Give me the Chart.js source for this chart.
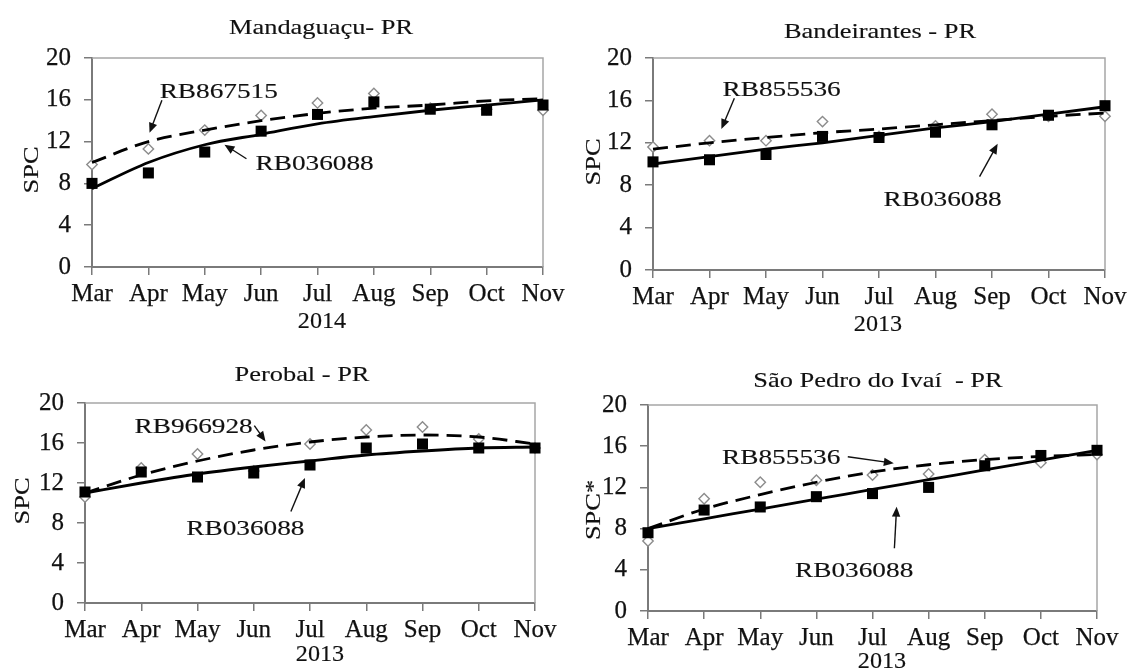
<!DOCTYPE html>
<html><head><meta charset="utf-8">
<script src="https://cdn.jsdelivr.net/npm/chart.js@4.4.1/dist/chart.umd.min.js"></script>
<style>
html,body{margin:0;padding:0;background:#fff;width:1129px;height:672px;overflow:hidden;position:relative}
canvas{position:absolute}
</style></head><body>
<canvas id="c1" width="600" height="336" style="left:0px;top:0px"></canvas>
<canvas id="c2" width="600" height="336" style="left:565px;top:0px"></canvas>
<canvas id="c3" width="600" height="336" style="left:0px;top:336px"></canvas>
<canvas id="c4" width="600" height="336" style="left:565px;top:336px"></canvas>
<script>
// ---- data ----
const months = ['Mar','Apr','May','Jun','Jul','Aug','Sep','Oct','Nov'];
const yTicks = [0, 4, 8, 12, 16, 20];

// Mandaguaçu - PR (2014)
const p1Title = 'Mandaguaçu- PR';
const p1Year = '2014';
const p1YLabel = 'SPC';
const p1Other = 'RB867515';
const p1RB036088 = [8.0, 9.0, 11.0, 13.0, 14.6, 15.8, 15.1, 15.0, 15.5];
const p1OtherVals = [9.8, 11.3, 13.1, 14.5, 15.7, 16.6, 15.2, 15.1, 15.0];
const p1FitRB036088 = [7.5, 10.0, 11.7, 12.7, 13.7, 14.4, 15.0, 15.5, 16.0];
const p1FitOther = [10.0, 12.0, 13.1, 14.0, 14.7, 15.2, 15.5, 15.9, 16.1];

// Bandeirantes - PR (2013)
const p2Title = 'Bandeirantes - PR';
const p2Year = '2013';
const p2YLabel = 'SPC';
const p2Other = 'RB855536';
const p2RB036088 = [10.2, 10.4, 10.9, 12.6, 12.5, 13.0, 13.7, 14.6, 15.5];
const p2OtherVals = [11.6, 12.2, 12.2, 14.0, 12.6, 13.6, 14.7, 14.5, 14.5];
const p2FitRB036088 = [10.0, 10.7, 11.4, 12.0, 12.7, 13.4, 14.0, 14.7, 15.4];
const p2FitOther = [11.4, 12.0, 12.5, 12.95, 13.3, 13.7, 14.1, 14.5, 14.8];

// Perobal - PR (2013)
const p3Title = 'Perobal - PR';
const p3Year = '2013';
const p3YLabel = 'SPC';
const p3Other = 'RB966928';
const p3RB036088 = [11.1, 13.1, 12.6, 13.0, 13.8, 15.5, 15.9, 15.5, 15.5];
const p3OtherVals = [10.6, 13.5, 14.9, 13.2, 15.9, 17.3, 17.6, 16.4, 15.5];
const p3FitRB036088 = [11.0, 12.0, 12.9, 13.6, 14.2, 14.8, 15.2, 15.5, 15.6];
const p3FitOther = [11.0, 12.8, 14.2, 15.3, 16.1, 16.6, 16.8, 16.6, 15.9];

// São Pedro do Ivaí - PR (2013)
const p4Title = 'São Pedro do Ivaí  - PR';
const p4Year = '2013';
const p4YLabel = 'SPC*';
const p4Other = 'RB855536';
const p4RB036088 = [7.6, 9.8, 10.1, 11.1, 11.4, 12.0, 14.1, 15.1, 15.6];
const p4OtherVals = [6.8, 10.9, 12.5, 12.7, 13.2, 13.3, 14.7, 14.4, 15.2];
const p4FitRB036088 = [8.0, 8.95, 9.9, 10.85, 11.8, 12.75, 13.7, 14.65, 15.6];
const p4FitOther = [8.0, 9.9, 11.3, 12.5, 13.5, 14.2, 14.7, 15.0, 15.2];

// ---- layout (page pixels) ----
const panels = [
  { id:'c1', cv:[0,0,600,336], area:[92,58,543,267], title:p1Title, year:p1Year, ylab:p1YLabel,
    sq:p1RB036088, dm:p1OtherVals, fs:p1FitRB036088, fd:p1FitOther,
    titlePos:[321,28], ylabPos:[32,170], yearPos:[322,322],
    notes:[ {text:p1Other, at:[1.20,16.2], from:[1.24,15.95], to:[1.02,12.85]},
            {text:'RB036088', at:[2.90,9.3], from:[2.74,10.36], to:[2.35,11.7]} ] },
  { id:'c2', cv:[565,0,600,336], area:[653,58,1105,270], title:p2Title, year:p2Year, ylab:p2YLabel,
    sq:p2RB036088, dm:p2OtherVals, fs:p2FitRB036088, fd:p2FitOther,
    titlePos:[880,32], ylabPos:[594,162], yearPos:[878,325],
    notes:[ {text:p2Other, at:[1.23,16.37], from:[1.44,16.2], to:[1.21,13.3]},
            {text:'RB036088', at:[4.08,6.05], from:[5.78,8.81], to:[6.10,11.9]} ] },
  { id:'c3', cv:[0,336,600,336], area:[85,403,535,603], title:p3Title, year:p3Year, ylab:p3YLabel,
    sq:p3RB036088, dm:p3OtherVals, fs:p3FitRB036088, fd:p3FitOther,
    titlePos:[302,375], ylabPos:[23,501], yearPos:[320,655],
    notes:[ {text:p3Other, at:[0.88,17.0], from:[3.01,17.73], to:[3.21,16.16]},
            {text:'RB036088', at:[1.80,6.83], from:[3.66,9.16], to:[3.91,12.5]} ] },
  { id:'c4', cv:[565,336,600,336], area:[648,405,1097,611], title:p4Title, year:p4Year, ylab:p4YLabel,
    sq:p4RB036088, dm:p4OtherVals, fs:p4FitRB036088, fd:p4FitOther,
    titlePos:[878,381], ylabPos:[594,510], yearPos:[882,662],
    notes:[ {text:p4Other, at:[1.32,14.27], from:[3.56,14.98], to:[4.38,14.34]},
            {text:'RB036088', at:[2.62,3.3], from:[4.39,6.09], to:[4.43,10.13]} ] }
];

const SERIF = "'Liberation Serif', 'Times New Roman', serif";
const TXT = '#111111';
const AXIS = '#7a7a7a';

function sText(ctx, text, x, y, size, sx, align, rot, base) {
  ctx.save();
  ctx.translate(x, y);
  if (rot) ctx.rotate(rot);
  ctx.scale(sx, 1);
  ctx.font = size + 'px ' + SERIF;
  ctx.fillStyle = TXT;
  ctx.strokeStyle = TXT;
  ctx.lineWidth = 0.15;
  ctx.textAlign = align;
  ctx.textBaseline = base || 'middle';
  ctx.fillText(text, 0, 0);
  ctx.strokeText(text, 0, 0);
  ctx.restore();
}
function arrow(ctx, x1, y1, x2, y2) {
  const a = Math.atan2(y2 - y1, x2 - x1);
  const hl = 10, hw = 4.2;
  ctx.save();
  ctx.strokeStyle = '#111'; ctx.fillStyle = '#111'; ctx.lineWidth = 1.4;
  ctx.beginPath();
  ctx.moveTo(x1, y1);
  ctx.lineTo(x2 - Math.cos(a) * hl * 0.8, y2 - Math.sin(a) * hl * 0.8);
  ctx.stroke();
  ctx.beginPath();
  ctx.moveTo(x2, y2);
  ctx.lineTo(x2 - Math.cos(a) * hl + Math.sin(a) * hw, y2 - Math.sin(a) * hl - Math.cos(a) * hw);
  ctx.lineTo(x2 - Math.cos(a) * hl - Math.sin(a) * hw, y2 - Math.sin(a) * hl + Math.cos(a) * hw);
  ctx.closePath();
  ctx.fill();
  ctx.restore();
}

const pts = arr => arr.map((v, i) => ({ x: i, y: v }));

panels.forEach(p => {
  const [cx, cy, cw, ch] = p.cv;
  const [L, T, R, B] = p.area;
  const deco = {
    id: 'deco' + p.id,
    beforeDatasetsDraw(chart) {
      const ctx = chart.ctx, a = chart.chartArea;
      ctx.save();
      ctx.strokeStyle = '#a6a6a6'; ctx.lineWidth = 1.5;
      ctx.beginPath();
      ctx.moveTo(a.left, a.top); ctx.lineTo(a.right, a.top); ctx.lineTo(a.right, a.bottom);
      ctx.stroke();
      ctx.restore();
    },
    afterDatasetsDraw(chart) {
      const ctx = chart.ctx, xs = chart.scales.x, ys = chart.scales.y;
      sText(ctx, p.title, p.titlePos[0] - cx, p.titlePos[1] - cy, 22, 1.2, 'center', 0);
      sText(ctx, p.ylab, p.ylabPos[0] - cx, p.ylabPos[1] - cy, 22, 1.2, 'center', -Math.PI / 2);
      sText(ctx, p.year, p.yearPos[0] - cx, p.yearPos[1] - cy, 23, 1.05, 'center', 0);
      p.notes.forEach(n => {
        sText(ctx, n.text, xs.getPixelForValue(n.at[0]), ys.getPixelForValue(n.at[1]), 22, 1.24, 'left', 0, 'alphabetic');
        arrow(ctx, xs.getPixelForValue(n.from[0]), ys.getPixelForValue(n.from[1]),
                   xs.getPixelForValue(n.to[0]), ys.getPixelForValue(n.to[1]));
      });
    }
  };
  const tickFont = { family: SERIF, size: 25 };
  new Chart(document.getElementById(p.id), {
    type: 'line',
    data: {
      datasets: [
        { data: pts(p.sq), showLine: false, pointStyle: 'rect', pointRadius: 7.8,
          pointBackgroundColor: '#000', pointBorderColor: '#000', pointBorderWidth: 0, order: 0, clip: false },
        { data: pts(p.fs), borderColor: '#000', borderWidth: 2.8, pointRadius: 0,
          cubicInterpolationMode: 'monotone', order: 1, clip: false },
        { data: pts(p.fd), borderColor: '#000', borderWidth: 2.8, borderDash: [15, 8], pointRadius: 0,
          cubicInterpolationMode: 'monotone', order: 2, clip: false },
        { data: pts(p.dm), showLine: false, pointStyle: 'rectRot', pointRadius: 5.2,
          pointBackgroundColor: '#fff', pointBorderColor: '#8c8c8c', pointBorderWidth: 1.4, order: 3, clip: false }
      ]
    },
    options: {
      responsive: false, animation: false, devicePixelRatio: 1,
      layout: { padding: { left: 0, top: T - cy, right: cx + cw - R, bottom: 0 } },
      plugins: { legend: { display: false }, tooltip: { enabled: false }, title: { display: false } },
      scales: {
        x: {
          type: 'linear', min: 0, max: 8,
          afterFit: s => { s.height = cy + ch - B; },
          afterBuildTicks: s => { s.ticks = months.map((m, i) => ({ value: i })); },
          ticks: { callback: v => months[v], autoSkip: false, maxRotation: 0, font: tickFont, color: TXT,
                   padding: 4, textStrokeColor: TXT, textStrokeWidth: 0.25 },
          grid: { drawOnChartArea: false, tickLength: 8, color: AXIS, lineWidth: 1.5 },
          border: { color: AXIS, width: 2 }
        },
        y: {
          min: 0, max: 20,
          afterFit: s => { s.width = L - cx; },
          afterBuildTicks: s => { s.ticks = yTicks.map(v => ({ value: v })); },
          ticks: { font: tickFont, color: TXT, padding: 13, textStrokeColor: TXT, textStrokeWidth: 0.25 },
          grid: { drawOnChartArea: false, tickLength: 8, color: AXIS, lineWidth: 1.5 },
          border: { color: AXIS, width: 2 }
        }
      }
    },
    plugins: [deco]
  });
});
</script>
</body></html>
